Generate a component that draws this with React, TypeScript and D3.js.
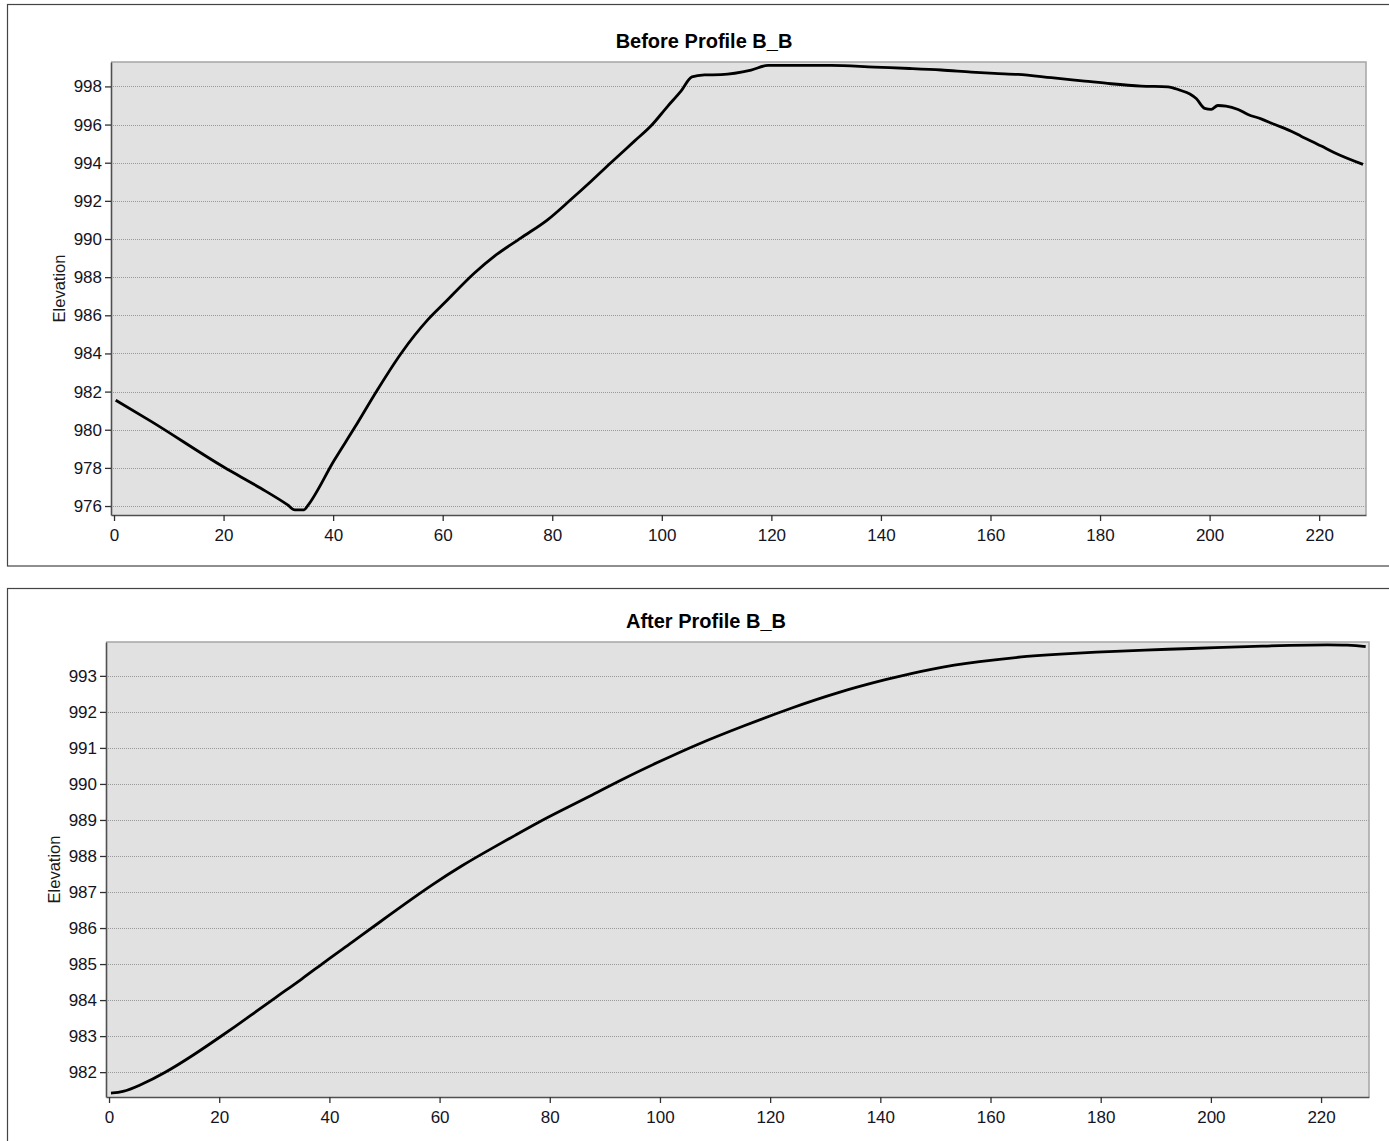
import { useEffect, useRef } from 'react';
import * as d3 from 'd3';

const beforeDist = [
  0.3, 6.7, 20.1, 26.8, 31.7, 33.0, 34.7, 35.3, 40.2, 43.9, 48.1, 52.4, 57.3, 60.3,
  65.8, 69.4, 74.3, 79.2, 83.4, 87.1, 90.7, 95.0, 98.0, 101.1, 103.5, 105.5, 107.8,
  110.8, 116.3, 119.4, 130.9, 138.8, 145.2, 151.0, 156.5, 160.7, 165.0, 171.1, 177.2,
  182.0, 187.5, 192.4, 194.6, 196.4, 197.6, 199.1, 200.3, 201.5, 203.0, 205.2, 207.0,
  209.4, 211.9, 214.9, 216.7, 220.4, 222.8, 228.0,
];
const beforeElev = [
  981.55, 980.45, 978.03, 976.93, 976.06, 975.8, 975.8, 976.0, 978.4, 980.1, 982.1,
  984.0, 985.77, 986.64, 988.22, 989.09, 990.06, 991.02, 992.07, 993.03, 994.0, 995.13,
  995.92, 996.97, 997.75, 998.5, 998.6, 998.62, 998.86, 999.1, 999.1, 999.01, 998.94,
  998.86, 998.75, 998.68, 998.63, 998.46, 998.28, 998.14, 998.02, 997.98, 997.8, 997.6,
  997.35, 996.85, 996.8, 997.0, 996.97, 996.79, 996.53, 996.3, 996.0, 995.65, 995.39,
  994.87, 994.52, 993.91,
];

const afterDist = [
  0.35, 2.4, 5.2, 10.1, 15.6, 20.1, 26.0, 30.2, 35.0, 39.2, 44.1, 48.9, 53.8, 58.6,
  64.2, 69.0, 73.9, 78.1, 82.2, 87.8, 93.3, 99.6, 106.7, 115.3, 123.8, 132.4, 140.9,
  149.5, 158.0, 166.6, 175.1, 183.7, 192.2, 200.8, 209.3, 217.9, 225.6, 228.1,
];
const afterElev = [
  981.42, 981.44, 981.6, 981.97, 982.5, 982.97, 983.6, 984.07, 984.58, 985.07, 985.6,
  986.14, 986.68, 987.2, 987.75, 988.17, 988.59, 988.95, 989.27, 989.7, 990.14, 990.6,
  991.1, 991.62, 992.11, 992.55, 992.9, 993.21, 993.4, 993.55, 993.63, 993.69, 993.74,
  993.78, 993.83, 993.86, 993.86, 993.81,
];

const distTicks = [0, 20, 40, 60, 80, 100, 120, 140, 160, 180, 200, 220];
const beforeElevTicks = [976, 978, 980, 982, 984, 986, 988, 990, 992, 994, 996, 998];
const afterElevTicks = [982, 983, 984, 985, 986, 987, 988, 989, 990, 991, 992, 993];

const FONT = '"Liberation Sans", Arial, sans-serif';

const panels = [
  {
    title: 'Before Profile B_B',
    dist: beforeDist,
    elev: beforeElev,
    yTicks: beforeElevTicks,
    box: { x: 7.5, y: 4.5, w: 1400, h: 561.5 },
    plot: { left: 111, right: 1366, top: 62, bottom: 515 },
    xDomain: [-0.55, 228.55],
    yDomain: [975.53, 999.28],
    titleX: 704,
    titleY: 47.5,
    labelX: 65,
    curve: d3.curveMonotoneX,
  },
  {
    title: 'After Profile B_B',
    dist: afterDist,
    elev: afterElev,
    yTicks: afterElevTicks,
    box: { x: 7.5, y: 588.5, w: 1400, h: 600 },
    plot: { left: 106, right: 1369, top: 642, bottom: 1097 },
    xDomain: [-0.55, 228.7],
    yDomain: [981.31, 993.94],
    titleX: 706,
    titleY: 627.5,
    labelX: 60,
    curve: d3.curveBasis,
  },
];

const App = () => {
  const svgRef = useRef(null);

  useEffect(() => {
    const svg = d3.select(svgRef.current);
    svg.selectAll('*').remove();

    panels.forEach((p) => {
      const g = svg.append('g');
      const { left, right, top, bottom } = p.plot;

      // panel frame
      g.append('rect')
        .attr('x', p.box.x)
        .attr('y', p.box.y)
        .attr('width', p.box.w)
        .attr('height', p.box.h)
        .attr('fill', '#fff')
        .attr('stroke', '#444')
        .attr('stroke-width', 1.2);

      const x = d3.scaleLinear().domain(p.xDomain).range([left, right]);
      const y = d3.scaleLinear().domain(p.yDomain).range([bottom, top]);

      // plot background
      g.append('rect')
        .attr('x', left)
        .attr('y', top)
        .attr('width', right - left)
        .attr('height', bottom - top)
        .attr('fill', '#e1e1e1');

      // dotted grid
      g.append('g')
        .selectAll('line')
        .data(p.yTicks)
        .join('line')
        .attr('x1', left)
        .attr('x2', right)
        .attr('y1', (d) => Math.round(y(d)) + 0.5)
        .attr('y2', (d) => Math.round(y(d)) + 0.5)
        .attr('stroke', '#9a9a9a')
        .attr('stroke-width', 1)
        .attr('stroke-dasharray', '1,1');

      // top / right border lighter
      g.append('path')
        .attr('d', `M${left},${top}H${right}V${bottom}`)
        .attr('fill', 'none')
        .attr('stroke', '#a5a5a5')
        .attr('stroke-width', 1.5);

      // profile line
      const line = d3
        .line()
        .x((d) => x(d[0]))
        .y((d) => y(d[1]))
        .curve(p.curve);
      g.append('path')
        .datum(p.dist.map((d, i) => [d, p.elev[i]]))
        .attr('d', line)
        .attr('fill', 'none')
        .attr('stroke', '#000')
        .attr('stroke-width', 2.8)
        .attr('stroke-linejoin', 'round');

      // axes
      const xAxis = g
        .append('g')
        .attr('transform', `translate(0,${bottom})`)
        .call(
          d3.axisBottom(x).tickValues(distTicks).tickSize(6).tickSizeOuter(0).tickPadding(8).tickFormat(d3.format('d'))
        );
      const yAxis = g
        .append('g')
        .attr('transform', `translate(${left},0)`)
        .call(
          d3.axisLeft(y).tickValues(p.yTicks).tickSize(6).tickSizeOuter(0).tickPadding(3).tickFormat(d3.format('d'))
        );

      [xAxis, yAxis].forEach((a) => {
        a.select('.domain').attr('stroke', '#505050').attr('stroke-width', 1.6);
        a.selectAll('.tick line').attr('stroke', '#303030').attr('stroke-width', 1.3);
        a.selectAll('.tick text')
          .attr('fill', '#14141f')
          .style('font-family', FONT)
          .style('font-size', '17px');
      });

      // title
      g.append('text')
        .attr('x', p.titleX)
        .attr('y', p.titleY)
        .attr('text-anchor', 'middle')
        .style('font-family', FONT)
        .style('font-size', '20px')
        .style('font-weight', 'bold')
        .attr('fill', '#000')
        .text(p.title);

      // y label
      g.append('text')
        .attr('transform', `translate(${p.labelX},${(top + bottom) / 2}) rotate(-90)`)
        .attr('text-anchor', 'middle')
        .style('font-family', FONT)
        .style('font-size', '16.5px')
        .attr('fill', '#1a1a1a')
        .text('Elevation');
    });
  }, []);

  return (
    <svg
      ref={svgRef}
      width={1389}
      height={1141}
      style={{ position: 'absolute', left: 0, top: 0, background: '#fff' }}
    ></svg>
  );
};

export default App;
